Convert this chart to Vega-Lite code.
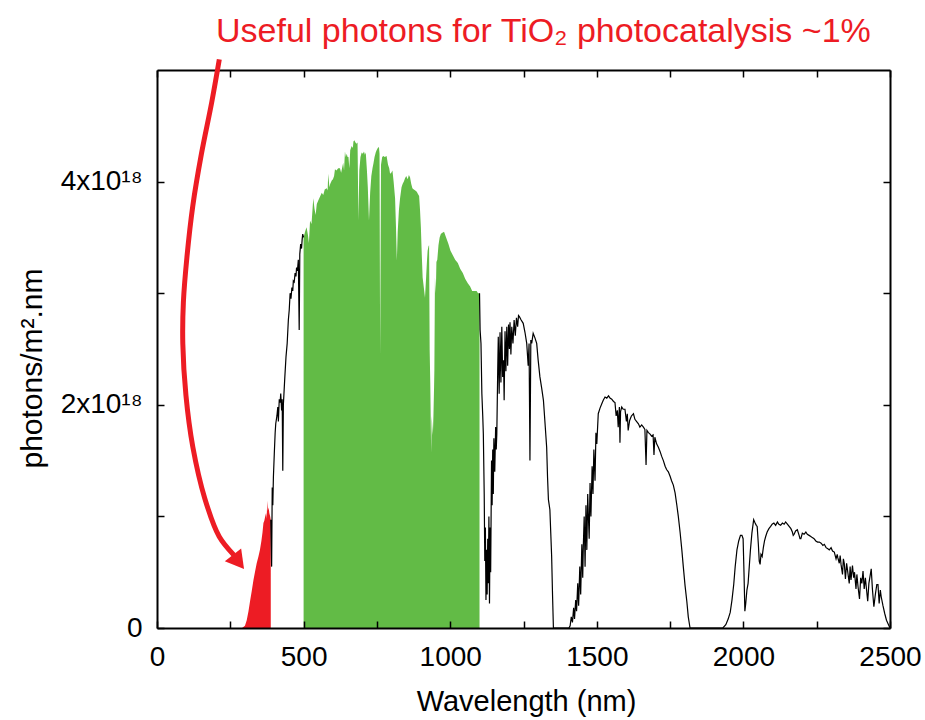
{
  "$schema": "https://vega.github.io/schema/vega-lite/v6.json",
  "width": 733,
  "height": 558,
  "autosize": {"type": "none"},
  "padding": {"left": 157, "top": 70, "right": 35, "bottom": 92},
  "background": "white",
  "config": {"view": {"stroke": null}, "font": "Liberation Sans, Arial, sans-serif"},
  "title": {"text": "Useful photons for TiO₂ photocatalysis ~1%", "color": "#ED1C24", "font": "Liberation Sans, sans-serif", "fontSize": 34, "fontWeight": "normal", "anchor": "start", "frame": "group", "dx": 59, "offset": 0, "baseline": "top"},
  "datasets": {
    "spectrum": [
      {"wl":280,"p":0},{"wl":290,"p":0},{"wl":300,"p":0.02e18},{"wl":306,"p":0.07e18},{"wl":312,"p":0.15e18},{"wl":318,"p":0.25e18},{"wl":323,"p":0.33e18},{"wl":329,"p":0.43e18},{"wl":334,"p":0.5e18},{"wl":340,"p":0.58e18},{"wl":346,"p":0.64e18},{"wl":351,"p":0.7e18},{"wl":356,"p":0.78e18},{"wl":360,"p":0.86e18},{"wl":363,"p":0.94e18},{"wl":366,"p":0.96e18},{"wl":369,"p":1.0e18},{"wl":372,"p":1.03e18},{"wl":374,"p":0.98e18},{"wl":376,"p":1.14e18},{"wl":378,"p":1.05e18},{"wl":381,"p":1.08e18},{"wl":383,"p":1.03e18},{"wl":386,"p":1.0e18},{"wl":388,"p":0.97e18},
      {"wl":391,"p":0.55e18},{"wl":393,"p":1.26e18},{"wl":395,"p":1.1e18},{"wl":397,"p":1.35e18},{"wl":400,"p":1.56e18},{"wl":403,"p":1.75e18},{"wl":405,"p":1.83e18},{"wl":409,"p":1.9e18},{"wl":412,"p":1.98e18},{"wl":414,"p":1.85e18},{"wl":417,"p":2.05e18},{"wl":420,"p":2.02e18},{"wl":422,"p":2.1e18},{"wl":425,"p":1.95e18},{"wl":427,"p":2.05e18},{"wl":429,"p":1.41e18},{"wl":431,"p":2.0e18},{"wl":433,"p":2.1e18},{"wl":436,"p":2.25e18},{"wl":440,"p":2.43e18},{"wl":444,"p":2.55e18},{"wl":448,"p":2.76e18},{"wl":451,"p":2.85e18},{"wl":454,"p":3.0e18},{"wl":457,"p":2.95e18},{"wl":460,"p":3.05e18},{"wl":463,"p":3.02e18},{"wl":465,"p":3.11e18},{"wl":468,"p":3.1e18},{"wl":471,"p":3.18e18},{"wl":474,"p":3.15e18},{"wl":476,"p":3.23e18},{"wl":479,"p":3.2e18},{"wl":482,"p":3.3e18},{"wl":485,"p":2.67e18},{"wl":487,"p":3.35e18},{"wl":490,"p":3.44e18},{"wl":493,"p":3.4e18},{"wl":495,"p":3.48e18},{"wl":497,"p":3.53e18},{"wl":500,"p":3.5e18},
      {"wl":505,"p":3.55e18},{"wl":510,"p":3.59e18},{"wl":515,"p":3.52e18},{"wl":518,"p":3.45e18},{"wl":522,"p":3.65e18},{"wl":527,"p":3.62e18},{"wl":533,"p":3.85e18},{"wl":537,"p":3.76e18},{"wl":541,"p":3.7e18},{"wl":545,"p":3.8e18},{"wl":550,"p":3.83e18},{"wl":555,"p":3.86e18},{"wl":562,"p":3.9e18},{"wl":567,"p":3.88e18},{"wl":572,"p":3.93e18},{"wl":579,"p":3.94e18},{"wl":582,"p":3.92e18},{"wl":584,"p":4.07e18},{"wl":588,"p":3.95e18},{"wl":591,"p":3.98e18},{"wl":596,"p":4.01e18},{"wl":600,"p":4.02e18},{"wl":604,"p":4.05e18},{"wl":607,"p":4.11e18},{"wl":612,"p":4.1e18},{"wl":618,"p":4.12e18},{"wl":624,"p":4.12e18},{"wl":628,"p":4.08e18},{"wl":632,"p":4.13e18},{"wl":635,"p":4.17e18},{"wl":638,"p":4.1e18},{"wl":641,"p":4.27e18},{"wl":644,"p":4.22e18},{"wl":647,"p":4.25e18},{"wl":650,"p":4.22e18},{"wl":653,"p":4.22e18},{"wl":656,"p":4.12e18},{"wl":659,"p":4.28e18},{"wl":664,"p":4.32e18},{"wl":668,"p":4.3e18},{"wl":670,"p":4.36e18},{"wl":673,"p":4.37e18},{"wl":677,"p":4.35e18},{"wl":680,"p":4.34e18},{"wl":684,"p":4.35e18},{"wl":687,"p":3.65e18},{"wl":690,"p":4.1e18},{"wl":694,"p":4.22e18},{"wl":698,"p":4.26e18},{"wl":702,"p":4.25e18},{"wl":706,"p":4.27e18},{"wl":709,"p":4.24e18},{"wl":712,"p":4.26e18},{"wl":716,"p":4.1e18},{"wl":719,"p":3.95e18},{"wl":723,"p":3.65e18},{"wl":727,"p":3.9e18},{"wl":731,"p":4.05e18},{"wl":735,"p":4.12e18},{"wl":738,"p":4.16e18},{"wl":742,"p":4.22e18},{"wl":746,"p":4.26e18},{"wl":749,"p":4.28e18},{"wl":753,"p":4.3e18},{"wl":757,"p":4.31e18},{"wl":759,"p":4.25e18},{"wl":761,"p":2.44e18},{"wl":764,"p":4.15e18},{"wl":768,"p":4.22e18},{"wl":772,"p":4.23e18},{"wl":777,"p":4.22e18},{"wl":783,"p":4.23e18},{"wl":788,"p":4.15e18},{"wl":792,"p":4.12e18},{"wl":795,"p":4.07e18},{"wl":799,"p":4.08e18},{"wl":803,"p":4.1e18},{"wl":807,"p":4.0e18},{"wl":812,"p":3.85e18},{"wl":815,"p":3.6e18},{"wl":818,"p":3.29e18},{"wl":821,"p":3.55e18},{"wl":825,"p":3.74e18},{"wl":829,"p":3.85e18},{"wl":834,"p":3.95e18},{"wl":838,"p":3.98e18},{"wl":842,"p":4.0e18},{"wl":846,"p":4.03e18},{"wl":850,"p":4.05e18},{"wl":855,"p":4.02e18},{"wl":859,"p":4.06e18},{"wl":863,"p":4.04e18},{"wl":867,"p":3.98e18},{"wl":871,"p":3.94e18},{"wl":876,"p":3.93e18},{"wl":881,"p":3.92e18},{"wl":886,"p":3.91e18},{"wl":890,"p":3.89e18},{"wl":894,"p":3.87e18},{"wl":897,"p":3.75e18},{"wl":900,"p":3.59e18},{"wl":903,"p":3.35e18},{"wl":906,"p":3.14e18},{"wl":910,"p":3.05e18},{"wl":914,"p":2.96e18},{"wl":918,"p":3.15e18},{"wl":921,"p":3.3e18},{"wl":923,"p":3.38e18},{"wl":926,"p":3.42e18},{"wl":928,"p":3.43e18},{"wl":930,"p":2.49e18},{"wl":932,"p":2.2e18},{"wl":935,"p":1.57e18},{"wl":937,"p":1.9e18},{"wl":939,"p":1.8e18},{"wl":941,"p":1.73e18},{"wl":943,"p":1.92e18},{"wl":945,"p":2.16e18},{"wl":946,"p":2.31e18},{"wl":948,"p":3.14e18},{"wl":951,"p":3.0e18},{"wl":953,"p":3.28e18},{"wl":956,"p":3.3e18},{"wl":960,"p":3.43e18},{"wl":964,"p":3.5e18},{"wl":968,"p":3.53e18},{"wl":972,"p":3.54e18},{"wl":979,"p":3.55e18},{"wl":986,"p":3.5e18},{"wl":994,"p":3.44e18},{"wl":1001,"p":3.38e18},{"wl":1009,"p":3.34e18},{"wl":1017,"p":3.3e18},{"wl":1026,"p":3.27e18},{"wl":1034,"p":3.22e18},{"wl":1043,"p":3.18e18},{"wl":1051,"p":3.13e18},{"wl":1060,"p":3.09e18},{"wl":1068,"p":3.06e18},{"wl":1075,"p":3.02e18},{"wl":1083,"p":3.02e18},{"wl":1090,"p":3.02e18},{"wl":1095,"p":3.0e18},{"wl":1100,"p":3.0e18},
      {"wl":1102,"p":2.67e18},{"wl":1105,"p":2.55e18},{"wl":1108,"p":2.1e18},{"wl":1111,"p":1.9e18},{"wl":1113,"p":1.74e18},{"wl":1116,"p":1.2e18},{"wl":1118,"p":0.6e18},{"wl":1120,"p":0.9e18},{"wl":1122,"p":0.25e18},{"wl":1124,"p":0.7e18},{"wl":1126,"p":0.3e18},{"wl":1128,"p":0.8e18},{"wl":1130,"p":0.4e18},{"wl":1132,"p":1.0e18},{"wl":1134,"p":0.22e18},{"wl":1136,"p":0.9e18},{"wl":1138,"p":0.5e18},{"wl":1141,"p":1.5e18},{"wl":1143,"p":1.1e18},{"wl":1145,"p":1.6e18},{"wl":1147,"p":1.2e18},{"wl":1149,"p":1.7e18},{"wl":1152,"p":1.4e18},{"wl":1155,"p":1.8e18},{"wl":1157,"p":1.6e18},{"wl":1159,"p":1.74e18},{"wl":1162,"p":2.3e18},{"wl":1164,"p":2.61e18},{"wl":1167,"p":2.1e18},{"wl":1170,"p":2.65e18},{"wl":1173,"p":2.2e18},{"wl":1176,"p":2.7e18},{"wl":1179,"p":2.25e18},{"wl":1182,"p":2.4e18},{"wl":1184,"p":2.04e18},{"wl":1187,"p":2.66e18},{"wl":1190,"p":2.3e18},{"wl":1193,"p":2.7e18},{"wl":1196,"p":2.35e18},{"wl":1199,"p":2.72e18},{"wl":1202,"p":2.5e18},{"wl":1204,"p":2.74e18},{"wl":1207,"p":2.45e18},{"wl":1210,"p":2.7e18},{"wl":1214,"p":2.55e18},{"wl":1218,"p":2.76e18},{"wl":1222,"p":2.62e18},{"wl":1226,"p":2.78e18},{"wl":1230,"p":2.7e18},{"wl":1233,"p":2.8e18},{"wl":1236,"p":2.79e18},{"wl":1242,"p":2.76e18},{"wl":1249,"p":2.73e18},{"wl":1255,"p":2.65e18},{"wl":1261,"p":2.55e18},{"wl":1266,"p":2.35e18},{"wl":1269,"p":2.55e18},{"wl":1272,"p":1.5e18},{"wl":1275,"p":2.58e18},{"wl":1278,"p":2.55e18},{"wl":1283,"p":2.64e18},{"wl":1289,"p":2.6e18},{"wl":1295,"p":2.55e18},{"wl":1300,"p":2.4e18},{"wl":1306,"p":2.25e18},{"wl":1312,"p":2.15e18},{"wl":1318,"p":2.04e18},{"wl":1323,"p":1.85e18},{"wl":1329,"p":1.62e18},{"wl":1332,"p":1.35e18},{"wl":1335,"p":1.15e18},{"wl":1340,"p":1.06e18},{"wl":1343,"p":0.85e18},{"wl":1346,"p":0.64e18},{"wl":1349,"p":0.3e18},{"wl":1352,"p":0},{"wl":1405,"p":0},
      {"wl":1409,"p":0.02e18},{"wl":1413,"p":0.1e18},{"wl":1417,"p":0.05e18},{"wl":1421,"p":0.18e18},{"wl":1424,"p":0.08e18},{"wl":1428,"p":0.25e18},{"wl":1431,"p":0.15e18},{"wl":1435,"p":0.4e18},{"wl":1438,"p":0.2e18},{"wl":1442,"p":0.55e18},{"wl":1445,"p":0.3e18},{"wl":1449,"p":0.75e18},{"wl":1452,"p":0.45e18},{"wl":1454,"p":0.73e18},{"wl":1457,"p":1.0e18},{"wl":1460,"p":0.55e18},{"wl":1463,"p":1.1e18},{"wl":1466,"p":0.7e18},{"wl":1469,"p":1.2e18},{"wl":1471,"p":1.03e18},{"wl":1474,"p":0.8e18},{"wl":1477,"p":1.3e18},{"wl":1480,"p":1.0e18},{"wl":1484,"p":1.45e18},{"wl":1487,"p":1.2e18},{"wl":1490,"p":1.6e18},{"wl":1494,"p":1.32e18},{"wl":1497,"p":1.75e18},{"wl":1500,"p":1.65e18},{"wl":1505,"p":1.92e18},{"wl":1511,"p":1.97e18},{"wl":1517,"p":2.01e18},{"wl":1522,"p":2.04e18},{"wl":1528,"p":2.07e18},{"wl":1534,"p":2.06e18},{"wl":1540,"p":2.08e18},{"wl":1545,"p":2.06e18},{"wl":1551,"p":2.05e18},{"wl":1557,"p":2.03e18},{"wl":1562,"p":2.02e18},{"wl":1566,"p":1.9e18},{"wl":1570,"p":1.95e18},{"wl":1573,"p":1.8e18},{"wl":1577,"p":1.98e18},{"wl":1579,"p":1.66e18},{"wl":1581,"p":1.94e18},{"wl":1585,"p":1.98e18},{"wl":1590,"p":1.96e18},{"wl":1596,"p":1.96e18},{"wl":1601,"p":1.85e18},{"wl":1604,"p":1.92e18},{"wl":1607,"p":1.77e18},{"wl":1612,"p":1.86e18},{"wl":1618,"p":1.9e18},{"wl":1625,"p":1.92e18},{"wl":1630,"p":1.87e18},{"wl":1636,"p":1.85e18},{"wl":1642,"p":1.83e18},{"wl":1647,"p":1.8e18},{"wl":1653,"p":1.82e18},{"wl":1659,"p":1.8e18},{"wl":1664,"p":1.78e18},{"wl":1668,"p":1.46e18},{"wl":1671,"p":1.77e18},{"wl":1676,"p":1.75e18},{"wl":1681,"p":1.74e18},{"wl":1687,"p":1.72e18},{"wl":1692,"p":1.73e18},{"wl":1695,"p":1.55e18},{"wl":1698,"p":1.71e18},{"wl":1704,"p":1.65e18},{"wl":1710,"p":1.62e18},{"wl":1716,"p":1.58e18},{"wl":1721,"p":1.54e18},{"wl":1727,"p":1.5e18},{"wl":1733,"p":1.45e18},{"wl":1738,"p":1.42e18},{"wl":1744,"p":1.4e18},{"wl":1750,"p":1.36e18},{"wl":1755,"p":1.32e18},{"wl":1761,"p":1.28e18},{"wl":1767,"p":1.21e18},{"wl":1773,"p":1.1e18},{"wl":1778,"p":1.0e18},{"wl":1784,"p":0.86e18},{"wl":1790,"p":0.7e18},{"wl":1795,"p":0.55e18},{"wl":1801,"p":0.38e18},{"wl":1807,"p":0.24e18},{"wl":1812,"p":0.1e18},{"wl":1818,"p":0},{"wl":1930,"p":0},
      {"wl":1940,"p":0.03e18},{"wl":1948,"p":0.08e18},{"wl":1955,"p":0.14e18},{"wl":1961,"p":0.25e18},{"wl":1967,"p":0.39e18},{"wl":1972,"p":0.55e18},{"wl":1978,"p":0.7e18},{"wl":1984,"p":0.78e18},{"wl":1990,"p":0.83e18},{"wl":1995,"p":0.83e18},{"wl":1999,"p":0.8e18},{"wl":2002,"p":0.5e18},{"wl":2005,"p":0.15e18},{"wl":2008,"p":0.22e18},{"wl":2012,"p":0.34e18},{"wl":2016,"p":0.4e18},{"wl":2020,"p":0.55e18},{"wl":2024,"p":0.7e18},{"wl":2029,"p":0.85e18},{"wl":2035,"p":0.97e18},{"wl":2040,"p":0.94e18},{"wl":2044,"p":0.92e18},{"wl":2047,"p":0.91e18},{"wl":2051,"p":0.75e18},{"wl":2054,"p":0.6e18},{"wl":2057,"p":0.57e18},{"wl":2060,"p":0.66e18},{"wl":2064,"p":0.64e18},{"wl":2068,"p":0.72e18},{"wl":2072,"p":0.78e18},{"wl":2076,"p":0.82e18},{"wl":2081,"p":0.86e18},{"wl":2087,"p":0.89e18},{"wl":2093,"p":0.91e18},{"wl":2098,"p":0.93e18},{"wl":2104,"p":0.94e18},{"wl":2110,"p":0.92e18},{"wl":2116,"p":0.95e18},{"wl":2121,"p":0.93e18},{"wl":2127,"p":0.92e18},{"wl":2133,"p":0.94e18},{"wl":2139,"p":0.93e18},{"wl":2144,"p":0.95e18},{"wl":2150,"p":0.93e18},{"wl":2156,"p":0.91e18},{"wl":2162,"p":0.89e18},{"wl":2167,"p":0.86e18},{"wl":2170,"p":0.83e18},{"wl":2173,"p":0.84e18},{"wl":2178,"p":0.87e18},{"wl":2184,"p":0.88e18},{"wl":2190,"p":0.83e18},{"wl":2193,"p":0.8e18},{"wl":2196,"p":0.8e18},{"wl":2201,"p":0.85e18},{"wl":2207,"p":0.84e18},{"wl":2213,"p":0.86e18},{"wl":2218,"p":0.84e18},{"wl":2224,"p":0.83e18},{"wl":2230,"p":0.82e18},{"wl":2235,"p":0.81e18},{"wl":2241,"p":0.8e18},{"wl":2247,"p":0.78e18},{"wl":2253,"p":0.77e18},{"wl":2259,"p":0.77e18},{"wl":2265,"p":0.76e18},{"wl":2271,"p":0.74e18},{"wl":2276,"p":0.75e18},{"wl":2282,"p":0.72e18},{"wl":2288,"p":0.71e18},{"wl":2293,"p":0.7e18},{"wl":2299,"p":0.72e18},{"wl":2304,"p":0.69e18},{"wl":2310,"p":0.68e18},{"wl":2316,"p":0.62e18},{"wl":2320,"p":0.66e18},{"wl":2322,"p":0.63e18},{"wl":2327,"p":0.58e18},{"wl":2330,"p":0.65e18},{"wl":2333,"p":0.57e18},{"wl":2338,"p":0.48e18},{"wl":2341,"p":0.62e18},{"wl":2344,"p":0.58e18},{"wl":2348,"p":0.44e18},{"wl":2352,"p":0.58e18},{"wl":2356,"p":0.5e18},{"wl":2361,"p":0.4e18},{"wl":2364,"p":0.55e18},{"wl":2367,"p":0.43e18},{"wl":2372,"p":0.56e18},{"wl":2376,"p":0.45e18},{"wl":2379,"p":0.5e18},{"wl":2384,"p":0.35e18},{"wl":2387,"p":0.48e18},{"wl":2391,"p":0.37e18},{"wl":2396,"p":0.26e18},{"wl":2400,"p":0.45e18},{"wl":2404,"p":0.4e18},{"wl":2408,"p":0.51e18},{"wl":2412,"p":0.35e18},{"wl":2416,"p":0.45e18},{"wl":2419,"p":0.37e18},{"wl":2424,"p":0.24e18},{"wl":2428,"p":0.4e18},{"wl":2433,"p":0.48e18},{"wl":2436,"p":0.53e18},{"wl":2440,"p":0.35e18},{"wl":2445,"p":0.19e18},{"wl":2450,"p":0.3e18},{"wl":2455,"p":0.39e18},{"wl":2459,"p":0.39e18},{"wl":2463,"p":0.22e18},{"wl":2467,"p":0.34e18},{"wl":2470,"p":0.28e18},{"wl":2476,"p":0.2e18},{"wl":2482,"p":0.13e18},{"wl":2488,"p":0.07e18},{"wl":2493,"p":0.04e18},{"wl":2500,"p":0}
    ],
    "arrow": [
      {"k":1,"wl":212.5,"p":5.095e18},{"k":2,"wl":186.6,"p":4.71e18},{"k":3,"wl":151.4,"p":4.247e18},{"k":4,"wl":122.1,"p":3.783e18},{"k":5,"wl":102.0,"p":3.321e18},{"k":6,"wl":90.0,"p":2.92e18},{"k":7,"wl":88.0,"p":2.549e18},{"k":8,"wl":98.6,"p":2.087e18},{"k":9,"wl":122.1,"p":1.623e18},{"k":10,"wl":163.0,"p":1.161e18},{"k":11,"wl":212.0,"p":0.82e18},{"k":12,"wl":262.0,"p":0.655e18}
    ],
    "arrowhead": [
      {"wl":278.0,"p":0.592e18}
    ]
  },
  "layer": [
    {
      "data": {"name": "spectrum"},
      "transform": [{"filter": "datum.wl <= 388"}],
      "mark": {"type": "area", "color": "#ED1C24"},
      "encoding": {
        "x": {"field": "wl", "type": "quantitative", "scale": {"domain": [0, 2500], "nice": false},
          "axis": {"orient": "bottom", "values": [0,250,500,750,1000,1250,1500,1750,2000,2250,2500], "format": "d", "labelExpr": "datum.value % 500 == 0 ? datum.label : ''", "labelFlush": false, "labelOverlap": false, "grid": false, "tickSize": -7, "tickWidth": 1.5, "tickColor": "black", "domainColor": "black", "domainWidth": 2, "labelFontSize": 28, "labelColor": "black", "labelPadding": 22, "title": "Wavelength (nm)", "titleFontSize": 29, "titleFontWeight": "normal", "titleColor": "black", "titleX": 369, "titleY": 73, "titleAlign": "center", "titleBaseline": "middle", "zindex": 1}},
        "y": {"field": "p", "type": "quantitative", "scale": {"domain": [0, 5e18], "nice": false},
          "axis": {"orient": "left", "values": [0, 1e18, 2e18, 3e18, 4e18], "labelExpr": "datum.value == 0 ? '0' : (datum.value == 2e18 ? '2x10¹⁸' : (datum.value == 4e18 ? '4x10¹⁸' : ''))", "labelOverlap": false, "labelFlush": false, "grid": false, "tickSize": -7, "tickWidth": 1.5, "tickColor": "black", "domainColor": "black", "domainWidth": 2, "labelFontSize": 28, "labelColor": "black", "labelPadding": 22, "title": "photons/m².nm", "titleFontSize": 30, "titleFontWeight": "normal", "titleColor": "black", "titleAngle": -90, "titleX": -125, "titleY": 298, "titleAlign": "center", "titleBaseline": "middle", "zindex": 1}}
      }
    },
    {
      "data": {"name": "spectrum"},
      "transform": [{"filter": "datum.wl >= 500 && datum.wl <= 1100"}],
      "mark": {"type": "area", "color": "#62BB46"},
      "encoding": {
        "x": {"field": "wl", "type": "quantitative",
          "axis": {"orient": "top", "values": [0,250,500,750,1000,1250,1500,1750,2000,2250,2500], "labels": false, "grid": false, "tickSize": -7, "tickWidth": 1.5, "tickColor": "black", "domainColor": "black", "domainWidth": 2, "title": null, "zindex": 0}},
        "y": {"field": "p", "type": "quantitative",
          "axis": {"orient": "right", "values": [0, 1e18, 2e18, 3e18, 4e18], "labels": false, "grid": false, "tickSize": -7, "tickWidth": 1.5, "tickColor": "black", "domainColor": "black", "domainWidth": 2, "title": null, "zindex": 1}}
      }
    },
    {
      "data": {"name": "spectrum"},
      "transform": [{"filter": "datum.wl >= 388 && datum.wl <= 500"}],
      "mark": {"type": "line", "color": "black", "strokeWidth": 1.2},
      "encoding": {
        "x": {"field": "wl", "type": "quantitative", "axis": null},
        "y": {"field": "p", "type": "quantitative", "axis": null}
      }
    },
    {
      "data": {"name": "spectrum"},
      "transform": [{"filter": "datum.wl >= 1100"}],
      "mark": {"type": "line", "color": "black", "strokeWidth": 1.2},
      "encoding": {
        "x": {"field": "wl", "type": "quantitative", "axis": null},
        "y": {"field": "p", "type": "quantitative", "axis": null}
      }
    },
    {
      "data": {"name": "arrow"},
      "mark": {"type": "line", "color": "#ED1C24", "strokeWidth": 5, "interpolate": "catmull-rom", "clip": false, "strokeCap": "butt"},
      "encoding": {
        "x": {"field": "wl", "type": "quantitative", "axis": null},
        "y": {"field": "p", "type": "quantitative", "axis": null},
        "order": {"field": "k", "type": "quantitative"}
      }
    },
    {
      "data": {"name": "arrowhead"},
      "mark": {"type": "point", "shape": "triangle-down", "filled": true, "color": "#ED1C24", "opacity": 1, "size": 430, "angle": -38, "clip": false},
      "encoding": {
        "x": {"field": "wl", "type": "quantitative", "axis": null},
        "y": {"field": "p", "type": "quantitative", "axis": null}
      }
    }
  ],
  "resolve": {"axis": {"x": "independent", "y": "independent"}}
}
